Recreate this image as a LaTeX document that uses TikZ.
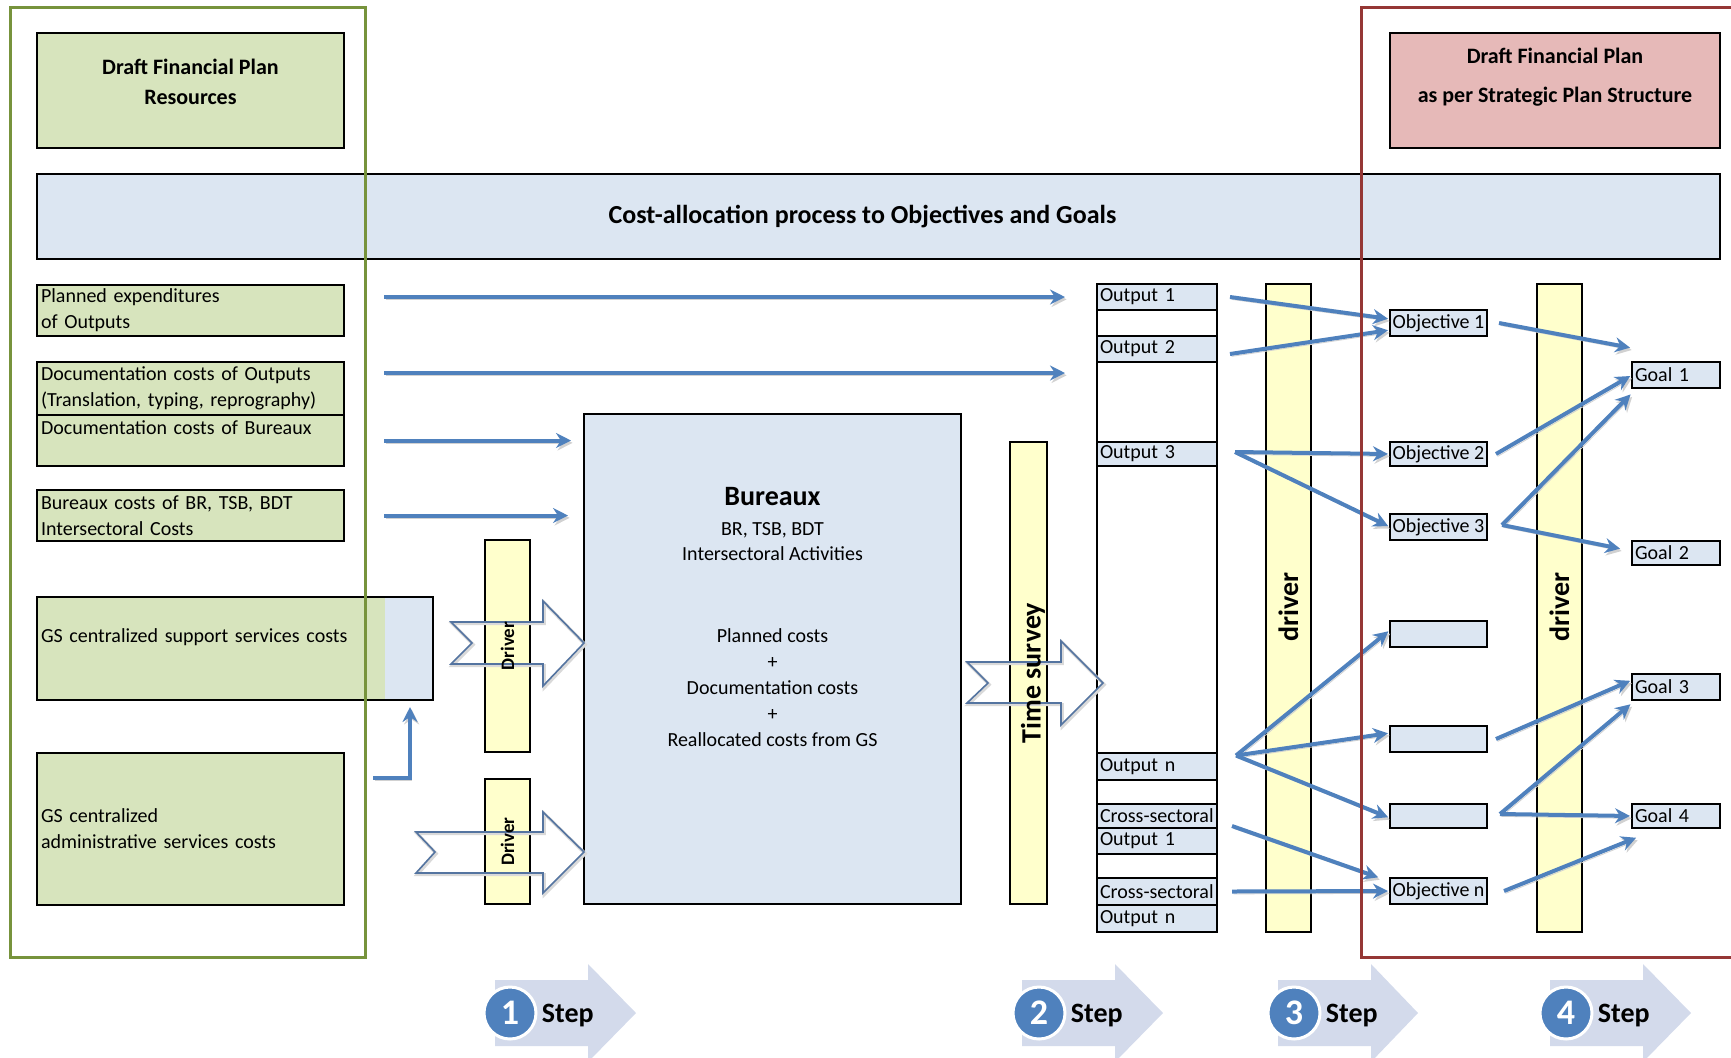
\documentclass[tikz,border=0pt]{standalone}
\usepackage{fontspec}
\setmainfont{Carlito}
\usetikzlibrary{positioning}
\usetikzlibrary{fit}
\usetikzlibrary{arrows.meta}
\definecolor{resgreen}{RGB}{215,228,189}
\definecolor{procblue}{RGB}{220,230,242}
\definecolor{driveryellow}{RGB}{255,255,204}
\definecolor{planpink}{RGB}{230,185,184}
\definecolor{framegreen}{RGB}{119,147,60}
\definecolor{framered}{RGB}{149,55,53}
\definecolor{flowblue}{RGB}{79,129,189}
\definecolor{hollowblue}{RGB}{84,116,160}
\definecolor{stepgray}{RGB}{211,218,235}

\tikzset{
  cell/.style={draw, line width=0.9pt, inner sep=0pt, outer sep=0pt},
  source/.style={cell, fill=resgreen, anchor=north west, inner xsep=2pt, text width=149.5pt, align=left, font=\fontsize{10}{13}\selectfont},
  headtext/.style={inner sep=0pt, align=center, font=\bfseries\fontsize{11}{15}\selectfont},
  outcell/.style={cell, fill=procblue, anchor=north west, minimum height=13pt, inner xsep=1.5pt, text width=57pt, align=left, font=\fontsize{10}{12}\selectfont},
  gapcell/.style={cell, fill=white, minimum width=60pt},
  objcell/.style={cell, fill=procblue, anchor=north west, minimum width=48.5pt, minimum height=13pt, font=\fontsize{10}{12}\selectfont},
  goalcell/.style={outcell, text width=41pt},
  bartext/.style={rotate=90, inner sep=0pt, font=\bfseries\fontsize{14}{16}\selectfont},
  flow/.style={draw=flowblue, line width=2pt, shorten >=1pt, -{Stealth[length=7.5pt,width=7.5pt,inset=2.5pt]}, preaction={draw=black!18, transform canvas={shift={(0.8pt,-1.2pt)}}}},
  hollow/.style={draw=hollowblue, line width=0.8pt, line join=miter, preaction={draw=black!15, line width=1.6pt, transform canvas={shift={(0.6pt,-0.8pt)}}}},
  stepnum/.style={circle, fill=flowblue, draw=white, line width=1.5pt, minimum size=26pt, inner sep=0pt, text=white, font=\bfseries\fontsize{18}{18}\selectfont},
  steptext/.style={inner sep=0pt, font=\bfseries\fontsize{14}{16}\selectfont}
}

\begin{document}
\begin{tikzpicture}[x=0.5pt,y=-0.5pt]
\useasboundingbox (0,0) rectangle (1731,1057);
\clip (0,0) rectangle (1731,1057);

% headers
\node[cell, fill=resgreen, fit={(37,33) (344,148)}] (res) {};
\node[headtext] (res-t) at ([yshift=4.25pt]res.center) {Draft Financial Plan\\Resources};
\node[cell, fill=planpink, fit={(1390,33) (1720,148)}] (spl) {};
\node[headtext, font=\bfseries\fontsize{11}{19.5}\selectfont] (spl-t) at ([yshift=6.5pt]spl.center) {Draft Financial Plan\\as per Strategic Plan Structure};
\node[cell, fill=procblue, fit={(37,174) (1720,259)}] (banner) {};
\node[inner sep=0pt, font=\bfseries\fontsize{13}{16}\selectfont] (banner-t) at ([xshift=-8pt]banner.center) {Cost-allocation process to Objectives and Goals};

% cost sources
\node[source, minimum height=25.5pt] (plan) at (37,285) {Planned expenditures\\of Outputs};
\node[source, minimum height=26.5pt] (docout) at (37,362) {Documentation costs of Outputs\\(Translation, typing, reprography)};
\node[source, minimum height=25.5pt, below=0pt of docout] (docbur) {Documentation costs of Bureaux\\\mbox{}};
\node[source, minimum height=25.5pt] (burcost) at (37,490) {Bureaux costs of BR, TSB, BDT\\Intersectoral Costs};
\node[source, minimum height=51.5pt, text width=194pt, fill=procblue,
  path picture={\fill[resgreen] (path picture bounding box.north west) rectangle ([xshift=-24pt]path picture bounding box.south east);}] (sup) at (37,597) {GS centralized support services costs\\\mbox{}};
\node[source, minimum height=76pt] (admin) at (37,753) {GS centralized\\administrative services costs};

% bureaux
\node[cell, fill=procblue, fit={(584,414) (961,904)}] (bur) {};
\node[inner sep=0pt, font=\bfseries\fontsize{14}{16}\selectfont] (bur-t) at ([yshift=-41.5pt]bur.north) {Bureaux};
\node[inner sep=0pt, align=center, font=\fontsize{10}{12.5}\selectfont] (bur-s) at ([yshift=-63.75pt]bur.north) {BR, TSB, BDT\\Intersectoral Activities};
\node[inner sep=0pt, align=center, font=\fontsize{10}{13}\selectfont] (bur-c) at ([yshift=-137pt]bur.north) {Planned costs\\+\\Documentation costs\\+\\Reallocated costs from GS};

% drivers and time survey
\node[cell, fill=driveryellow, fit={(485,540) (530,752)}] (drv1) {};
\node[cell, fill=driveryellow, fit={(485,779) (530,904)}] (drv2) {};
\node[cell, fill=driveryellow, fit={(1010,442) (1047,904)}] (time) {};

% outputs
\node[outcell] (out1) at (1097,284) {Output 1};
\node[gapcell, minimum height=13pt, below=0pt of out1] (gap1) {};
\node[outcell, below=0pt of gap1] (out2) {Output 2};
\node[gapcell, minimum height=40pt, below=0pt of out2] (gap2) {};
\node[outcell, minimum height=12pt, below=0pt of gap2] (out3) {Output 3};
\node[gapcell, minimum height=143.5pt, below=0pt of out3] (gap3) {};
\node[outcell, minimum height=13.5pt, below=0pt of gap3] (outn) {Output n};
\node[gapcell, minimum height=12pt, below=0pt of outn] (gap4) {};
\node[outcell, minimum height=12pt, below=0pt of gap4] (cs1a) {Cross-sectoral};
\node[outcell, below=0pt of cs1a] (cs1b) {Output 1};
\node[gapcell, minimum height=12pt, below=0pt of cs1b] (gap5) {};
\node[outcell, minimum height=13.5pt, below=0pt of gap5] (csna) {Cross-sectoral};
\node[outcell, minimum height=13.5pt, below=0pt of csna] (csnb) {Output n};

% hollow arrows
\draw[hollow] (451,622) -- (472,643) -- (451,664) -- (543,664) -- (543,686) -- (584,643) -- (543,601) -- (543,622) -- cycle;
\draw[hollow] (416,832) -- (435,852) -- (416,873) -- (543,873) -- (543,893) -- (584,852) -- (543,812) -- (543,832) -- cycle;
\draw[hollow] (967,662) -- (988,683) -- (967,703) -- (1061,703) -- (1061,725) -- (1103,683) -- (1061,641) -- (1061,662) -- cycle;
\node[bartext, font=\bfseries\fontsize{9.5}{11}\selectfont] (drv1-t) at (drv1.center) {Driver};
\node[bartext, font=\bfseries\fontsize{9.5}{11}\selectfont] (drv2-t) at (drv2.center) {Driver};
\node[bartext] (time-t) at ([xshift=2.25pt]time.center) {Time survey};

% driver bars
\node[cell, fill=driveryellow, fit={(1266,284) (1311,932)}] (dr3) {};
\node[cell, fill=driveryellow, fit={(1537,284) (1582,932)}] (dr4) {};
\node[bartext] (dr3-t) at ([yshift=0.5pt]dr3.center) {driver};
\node[bartext] (dr4-t) at ([yshift=0.5pt]dr4.center) {driver};

% objectives
\node[objcell] (obj1) at (1390,310) {Objective 1};
\node[objcell, minimum height=12pt] (obj2) at (1390,442) {Objective 2};
\node[objcell] (obj3) at (1390,514) {Objective 3};
\node[objcell] (obj4) at (1390,621) {};
\node[objcell] (obj5) at (1390,726) {};
\node[objcell, minimum height=12pt] (obj6) at (1390,804) {};
\node[objcell] (objn) at (1390,878) {Objective n};

% goals
\node[goalcell] (goal1) at (1632,362) {Goal 1};
\node[goalcell, minimum height=12pt] (goal2) at (1632,541) {Goal 2};
\node[goalcell] (goal3) at (1632,674) {Goal 3};
\node[goalcell, minimum height=12pt] (goal4) at (1632,804) {Goal 4};

% flows into outputs and bureaux
\draw[flow] ([xshift=20pt]plan.east |- out1.west) -- ([xshift=-15pt]out1.west);
\draw[flow] ([xshift=20pt,yshift=-5.5pt]docout.north east) -- ([xshift=-15pt,yshift=-5.5pt]gap2.north west);
\draw[flow] ([xshift=20pt]docbur.east) -- ([xshift=-5.5pt]bur.west |- docbur.east);
\draw[flow] ([xshift=20pt]burcost.east) -- ([xshift=-7pt]bur.west |- burcost.east);
\draw[flow] ([xshift=14.5pt,yshift=-12.5pt]admin.north east) -| ([xshift=-11.5pt,yshift=-2.5pt]sup.south east);

% step 3
\coordinate (o3) at ([xshift=9pt,yshift=1pt]out3.east);
\coordinate (on) at ([xshift=9.5pt,yshift=5.5pt]outn.east);
\draw[flow] ([xshift=6.5pt]out1.east) -- ([yshift=2pt]obj1.west);
\draw[flow] ([xshift=6.5pt,yshift=-2.5pt]out2.east) -- ([yshift=-3.5pt]obj1.west);
\draw[flow] (o3) -- (obj2.west);
\draw[flow] (o3) -- (obj3.west);
\draw[flow] (on) -- ([yshift=2pt]obj4.west);
\draw[flow] (on) -- ([yshift=3pt]obj5.west);
\draw[flow] (on) -- ([yshift=-1pt]obj6.west);
\draw[flow] ([xshift=7.5pt,yshift=-5pt]cs1a.east) -- ([xshift=-5pt]objn.north west);
\draw[flow] ([xshift=7.5pt]csna.east) -- (objn.west);

% step 4
\coordinate (ob3) at ([xshift=7.5pt,yshift=1pt]obj3.east);
\coordinate (ob6) at ([xshift=6.5pt,yshift=1pt]obj6.east);
\draw[flow] ([xshift=6pt]obj1.east) -- ([yshift=7pt]goal1.north west);
\draw[flow] ([xshift=4.5pt]obj2.east) -- (goal1.west);
\draw[flow] (ob3) -- ([yshift=-2.5pt]goal1.south west);
\draw[flow] (ob3) -- ([xshift=-5pt,yshift=2pt]goal2.west);
\draw[flow] ([xshift=4.5pt]obj5.east) -- ([yshift=3.5pt]goal3.west);
\draw[flow] (ob6) -- ([yshift=-1.5pt]goal3.south west);
\draw[flow] (ob6) -- (goal4.west);
\draw[flow] ([xshift=8.5pt]objn.east) -- ([xshift=3pt,yshift=-4.5pt]goal4.south west);

% frames
\draw[line width=1.5pt, framegreen] (10,7) rectangle (365,957);
\draw[line width=1.5pt, framered] (1361,7) rectangle (1760,957);

% steps
\fill[stepgray] (495,980) -- (588,980) -- (588,964) -- (636,1013) -- (588,1062) -- (588,1046) -- (495,1046) -- cycle;
\node[stepnum] (s1) at (510,1013) {1};
\node[steptext, right=2pt of s1, yshift=-1.5pt] (s1-t) {Step};
\fill[stepgray] (1022,980) -- (1115,980) -- (1115,964) -- (1163,1013) -- (1115,1062) -- (1115,1046) -- (1022,1046) -- cycle;
\node[stepnum] (s2) at (1039,1013) {2};
\node[steptext, right=2pt of s2, yshift=-1.5pt] (s2-t) {Step};
\fill[stepgray] (1278,980) -- (1371,980) -- (1371,964) -- (1418,1013) -- (1371,1062) -- (1371,1046) -- (1278,1046) -- cycle;
\node[stepnum] (s3) at (1294,1013) {3};
\node[steptext, right=2pt of s3, yshift=-1.5pt] (s3-t) {Step};
\fill[stepgray] (1550,980) -- (1643,980) -- (1643,964) -- (1691,1013) -- (1643,1062) -- (1643,1046) -- (1550,1046) -- cycle;
\node[stepnum] (s4) at (1566,1013) {4};
\node[steptext, right=2pt of s4, yshift=-1.5pt] (s4-t) {Step};
\end{tikzpicture}
\end{document}
